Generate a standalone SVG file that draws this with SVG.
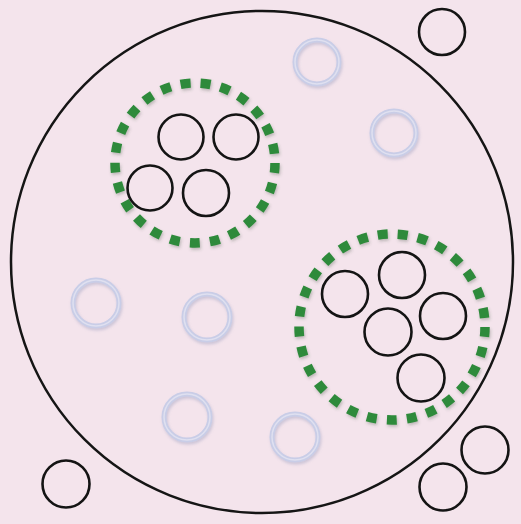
<svg xmlns="http://www.w3.org/2000/svg" width="521" height="524" viewBox="0 0 521 524">
<defs>
<filter id="sh" x="-30%" y="-30%" width="160%" height="160%">
<feGaussianBlur in="SourceAlpha" stdDeviation="1.8"/>
<feOffset dx="1" dy="2" result="b"/>
<feFlood flood-color="#8088b0" flood-opacity="0.35"/>
<feComposite in2="b" operator="in"/>
<feMerge><feMergeNode/><feMergeNode in="SourceGraphic"/></feMerge>
</filter>
<filter id="sh2" x="-10%" y="-10%" width="120%" height="120%">
<feGaussianBlur in="SourceAlpha" stdDeviation="1.5"/>
<feOffset dx="1" dy="1.5" result="b"/>
<feFlood flood-color="#405040" flood-opacity="0.3"/>
<feComposite in2="b" operator="in"/>
<feMerge><feMergeNode/><feMergeNode in="SourceGraphic"/></feMerge>
</filter>
</defs>
<style>
.bg{fill:#f4e4ec}
.big{fill:none;stroke:#151515;stroke-width:2.5}
.blk{fill:none;stroke:#141414;stroke-width:2.6}
.lt{fill:none;stroke:#c9cde7;stroke-width:5;filter:url(#sh)}
.ltin{fill:none;stroke:#dfe0f0;stroke-width:1.5}
.dash{fill:none;stroke:#2e8a3b;stroke-width:9.5;filter:url(#sh2)}
</style>
<rect class="bg" x="0" y="0" width="521" height="524"/>
<g id="universe"><circle class="big" cx="262" cy="262" r="251"/></g>
<g id="cluster1">
<circle class="dash" cx="195" cy="163" r="80" stroke-dasharray="10 10.106"/>
<circle class="blk" cx="181" cy="137" r="22.5"/>
<circle class="blk" cx="236" cy="137" r="22.5"/>
<circle class="blk" cx="150" cy="188" r="22.5"/>
<circle class="blk" cx="206" cy="193" r="23"/>
</g>
<g id="cluster2">
<circle class="dash" cx="392" cy="327" r="93" stroke-dasharray="10 10.15"/>
<circle class="blk" cx="345" cy="294" r="23"/>
<circle class="blk" cx="402" cy="275" r="23"/>
<circle class="blk" cx="443" cy="316" r="23"/>
<circle class="blk" cx="388" cy="332" r="23.5"/>
<circle class="blk" cx="421" cy="378" r="23.5"/>
</g>
<g id="light">
<g id="l1"><circle class="lt" cx="317" cy="62" r="22"/><circle class="ltin" cx="317" cy="62" r="22"/></g>
<g id="l2"><circle class="lt" cx="394" cy="133" r="22"/><circle class="ltin" cx="394" cy="133" r="22"/></g>
<g id="l3"><circle class="lt" cx="96" cy="303" r="23"/><circle class="ltin" cx="96" cy="303" r="23"/></g>
<g id="l4"><circle class="lt" cx="207" cy="317" r="23"/><circle class="ltin" cx="207" cy="317" r="23"/></g>
<g id="l5"><circle class="lt" cx="187" cy="417" r="23"/><circle class="ltin" cx="187" cy="417" r="23"/></g>
<g id="l6"><circle class="lt" cx="295" cy="437" r="23"/><circle class="ltin" cx="295" cy="437" r="23"/></g>
</g>
<g id="outside">
<circle class="blk" cx="442" cy="32" r="23"/>
<circle class="blk" cx="66" cy="484" r="23.5"/>
<circle class="blk" cx="485" cy="450" r="23.5"/>
<circle class="blk" cx="443" cy="487" r="23.5"/>
</g>
</svg>
